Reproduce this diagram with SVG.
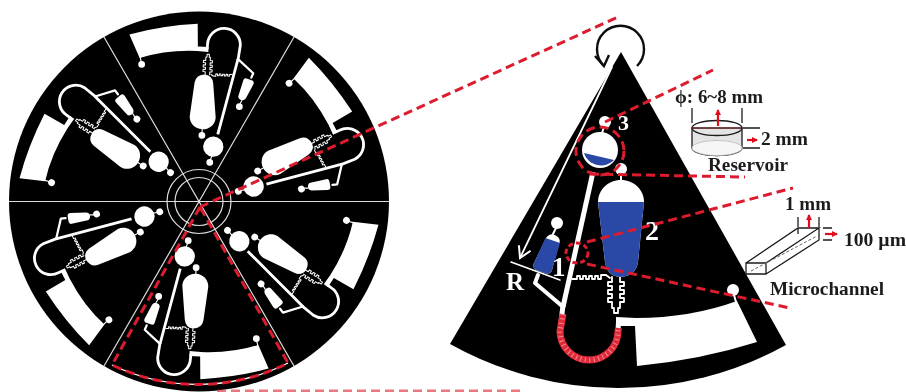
<svg xmlns="http://www.w3.org/2000/svg" xmlns:xlink="http://www.w3.org/1999/xlink" width="906" height="392" viewBox="0 0 906 392">
<style>
.w{fill:#fff}
.ln{fill:none;stroke:#fff;stroke-linecap:round;stroke-linejoin:round}
.sp{fill:none;stroke:#ddd;stroke-width:1.2}
.rd{fill:none;stroke:#dc1c2e;stroke-width:3;stroke-dasharray:9 5}
.blue{fill:#2b48a6}
.ink{fill:none;stroke:#1a1a1a;stroke-width:1.3}
.ra{fill:none;stroke:#e0101f;stroke-width:2.2;marker-end:url(#rh)}
.t{font-family:"Liberation Serif","Times New Roman",serif;font-weight:bold;fill:#1c1c1c;font-size:18px}
.n{font-family:"Liberation Serif","Times New Roman",serif;font-weight:bold;fill:#fff}
</style>
<defs>
<filter id="soft" x="-2%" y="-2%" width="104%" height="104%"><feGaussianBlur stdDeviation="0.6"/></filter>
<marker id="rh" markerWidth="8" markerHeight="8" refX="5" refY="3" orient="auto" markerUnits="userSpaceOnUse"><path d="M0,0 L6,3 L0,6 Z" fill="#e0101f"/></marker>
<marker id="wh" markerWidth="18" markerHeight="18" refX="12" refY="7" orient="auto" markerUnits="userSpaceOnUse"><path d="M1,0.5 L12,7 L1,13.5" fill="none" stroke="#fff" stroke-width="2"/></marker>
<g id="layout">
  <circle class="w" cx="600" cy="150" r="18"/>
  <circle class="w" cx="605" cy="122" r="6"/>
  <circle class="w" cx="621" cy="169" r="6"/>
  <circle class="w" cx="557" cy="223" r="6"/>
  <circle class="w" cx="733" cy="290" r="6"/>
  <path class="ln" stroke-width="2" d="M604,127 L602,133 M621,174 V181 M556,228 L553,234 M734,295 L736,302"/>
  <path class="w" d="M621,180 C608,180 598,190 598,202 L605,262 Q607,276 620,277 Q636,276 638,262 L644,202 C644,190 634,180 621,180Z"/>
  <path class="w" d="M546,238 Q551,231 558,237 Q561,240 559,244 L552,270 Q551,275 545,273 L536,270 Q532,268 534,263 Z"/>
  <path class="ln" stroke-width="5" style="stroke-linecap:butt" d="M593,172 L563,307"/>
  <path id="uloop" class="ln" stroke-width="5" style="stroke-linecap:butt" d="M563,305 L560,331 A29,29 0 0 0 618,331 L618.5,322"/>
  <path class="ln" stroke-width="4" d="M538,275 L535,283 L562,306"/>
  <path class="w" d="M616,317 L636,318 Q690,318 737,301 L757,342 Q700,360 637,366 L635,326 L616,326 Z"/>
  <path class="ln" stroke-width="1.8" d="M572,279 H577 V276 H580 V279 H583 V276 H586 V279 H589 V276 H592 V279 H595 V276 H598 V279 H601 V275 H606 L610,278"/>
  <path class="ln" stroke-width="1.8" d="M612,277 V282 H608 V286 H612 V290 H608 V294 H612 V298 H608 V302 H612 V308 H614 V313 H618 V308 H620 V302 H624 V298 H620 V294 H624 V290 H620 V286 H624 V282 H620 V277"/>
</g>
</defs>
<rect width="906" height="392" fill="#fff"/>
<g filter="url(#soft)">
<g id="disc">
  <circle cx="199" cy="201.5" r="190" fill="#000"/>
  <g transform="translate(199,201.5) scale(0.565)">
    <g transform="rotate(2.5)"><use xlink:href="#layout" href="#layout" transform="translate(-621,-52)"/></g>
    <g transform="rotate(62.5)"><use xlink:href="#layout" href="#layout" transform="translate(-621,-52)"/></g>
    <g transform="rotate(122.5)"><use xlink:href="#layout" href="#layout" transform="translate(-621,-52)"/></g>
    <g transform="rotate(182.5)"><use xlink:href="#layout" href="#layout" transform="translate(-621,-52)"/></g>
    <g transform="rotate(242.5)"><use xlink:href="#layout" href="#layout" transform="translate(-621,-52)"/></g>
    <g transform="rotate(302.5)"><use xlink:href="#layout" href="#layout" transform="translate(-621,-52)"/></g>
  </g>
  <path class="sp" d="M9,201.5 H389 M104,37 L294,366 M294,37 L104,366"/>
  <circle class="sp" cx="199" cy="201.5" r="32"/>
  <circle class="sp" cx="199" cy="201.5" r="24"/>
  <path d="M112,365 A200,200 0 0 0 288,363" fill="none" stroke="#fff" stroke-width="1.2"/>
  <path class="rd" d="M200,207 L112,365 A200,200 0 0 0 288,363 Z"/>
</g>
<g id="sector">
  <path d="M621,52 L450,344 A346,346 0 0 0 786,345 Z" fill="#000"/>
  <use xlink:href="#layout" href="#layout"/>
  <path class="blue" d="M584,153 L614,160 A18,18 0 0 1 584,153 Z"/>
  <path class="blue" d="M598,202 L644,202 L638,262 Q636,276 620,277 Q607,276 605,262 Z"/>
  <path class="blue" d="M545.5,238 L560,243 L552,270 Q551,275 545,273 L536,270 Q532,268 534,263 Z"/>
  <path fill="none" stroke="#e22b3b" stroke-width="7" d="M563,314 L560,331 A29,29 0 0 0 618,331 L618.5,328"/>
  <path fill="none" stroke="#fff" stroke-opacity="0.45" stroke-width="5" stroke-dasharray="1 3.5" d="M563,314 L560,331 A29,29 0 0 0 618,331 L618.5,328"/>
  <path class="ln" stroke-width="1.8" d="M612,67 L520,258" marker-end="url(#wh)"/>
  <path class="ln" stroke-width="1.6" d="M511,262 L560,280"/>
  <text class="n" x="618" y="130" font-size="22">3</text>
  <text class="n" x="645" y="240" font-size="28">2</text>
  <text class="n" x="552" y="276" font-size="27">1</text>
  <text class="n" x="506" y="290" font-size="25">R</text>
</g>
<g id="rotation">
  <path d="M637,66 A23.5,23.5 0 1 0 604,66" fill="none" stroke="#111" stroke-width="2.4"/>
  <path d="M595,56 L604,66 L609,55" fill="none" stroke="#111" stroke-width="2.4"/>
</g>
<g id="reservoir">
  <path d="M692,128 V148 A25,7.5 0 0 0 742,148 V128 Z" fill="#e4e4e4" stroke="#1a1a1a" stroke-width="1.3"/>
  <path d="M692,148 A25,7.5 0 0 1 742,148 A25,7.5 0 0 1 692,148 Z" fill="#f6f6f6" stroke="#bbb" stroke-width="0.8"/>
  <ellipse cx="717" cy="128" rx="25" ry="7.5" fill="#f4f4f4" class="ink"/>
  <path d="M692,128 H742" fill="none" stroke="#e0101f" stroke-width="0.9" stroke-dasharray="1.5 1.5"/>
  <path class="ink" d="M692,108 V123 M742,108 V123 M743,128 H760 M743,148 H760"/>
  <path class="ra" d="M718,126 V110"/>
  <path class="ra" d="M747,140 H757"/>
  <text class="t" x="675" y="103" textLength="88" lengthAdjust="spacingAndGlyphs">ϕ: 6~8 mm</text>
  <text class="t" x="761" y="145" textLength="47" lengthAdjust="spacingAndGlyphs">2 mm</text>
  <text class="t" x="708" y="171" textLength="80" lengthAdjust="spacingAndGlyphs">Reservoir</text>
</g>
<g id="microchannel">
  <path class="ink" d="M746,263 H766 V274 H746 Z M746,263 L798,228 H819 L766,263 M766,274 L819,240 V228 M798,228 V234"/>
  <path d="M751,271 L817,236" fill="none" stroke="#666" stroke-width="1" stroke-dasharray="3 2"/>
  <path class="ink" d="M798,217 V227 M819,217 V227 M823,228 H832 M823,240 H832"/>
  <path class="ra" d="M809,228 V215"/>
  <path class="ra" d="M825,234 H837"/>
  <text class="t" x="785" y="210" textLength="46" lengthAdjust="spacingAndGlyphs">1 mm</text>
  <text class="t" x="844" y="246" textLength="62" lengthAdjust="spacingAndGlyphs">100 µm</text>
  <text class="t" x="770" y="295" textLength="114" lengthAdjust="spacingAndGlyphs">Microchannel</text>
</g>
<g id="connectors">
  <path class="rd" d="M200,207 L618,17"/>
  <circle class="rd" cx="600" cy="151" r="24"/>
  <path class="rd" d="M605,122 L713,70"/>
  <path class="rd" d="M590,174 L745,177"/>
  <ellipse class="rd" cx="577" cy="253" rx="11" ry="10" style="stroke-dasharray:5 3"/>
  <path class="rd" d="M587,242 L793,188"/>
  <path class="rd" d="M587,264 L790,308"/>
  <path class="rd" d="M217,391 H525" stroke-opacity="0.6"/>
</g>
</g>
</svg>
